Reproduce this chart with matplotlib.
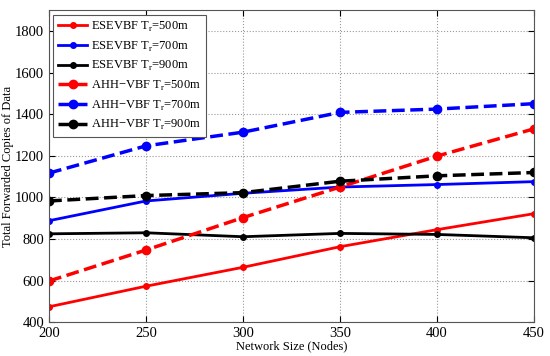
import numpy as np
import matplotlib
matplotlib.use('Agg')
import matplotlib.pyplot as plt

plt.rcParams['font.family'] = ['Liberation Serif', 'DejaVu Serif']
plt.rcParams['mathtext.fontset'] = 'custom'
plt.rcParams['mathtext.rm'] = 'Liberation Serif'

# data
nodes = [200, 250, 300, 350, 400, 450]
esevbf_500 = [474, 573, 664, 763, 845, 922]
esevbf_700 = [888, 983, 1020, 1050, 1062, 1076]
esevbf_900 = [825, 830, 811, 827, 822, 806]
ahh_500 = [598, 747, 903, 1050, 1199, 1330]
ahh_700 = [1117, 1248, 1314, 1409, 1425, 1451]
ahh_900 = [983, 1009, 1023, 1078, 1104, 1120]

labels = [r'ESEVBF T$_\mathregular{r}$=500m', r'ESEVBF T$_\mathregular{r}$=700m',
          r'ESEVBF T$_\mathregular{r}$=900m', r'AHH$-$VBF T$_\mathregular{r}$=500m',
          r'AHH$-$VBF T$_\mathregular{r}$=700m', r'AHH$-$VBF T$_\mathregular{r}$=900m']

fig = plt.figure(figsize=(5.5, 3.56), dpi=100)
ax = fig.add_axes([0.089, 0.095, 0.882, 0.876])

ax.plot(nodes, esevbf_500, 'r-', lw=2, marker='.', ms=8, label=labels[0])
ax.plot(nodes, esevbf_700, 'b-', lw=2, marker='.', ms=8, label=labels[1])
ax.plot(nodes, esevbf_900, 'k-', lw=2, marker='.', ms=8, label=labels[2])
ax.plot(nodes, ahh_500, 'r--', lw=2.5, marker='o', ms=6, label=labels[3])
ax.plot(nodes, ahh_700, 'b--', lw=2.5, marker='o', ms=6, label=labels[4])
ax.plot(nodes, ahh_900, 'k--', lw=2.5, marker='o', ms=6, label=labels[5])

ax.set_xlim(200, 450)
ax.set_ylim(400, 1900)
ax.set_xticks(nodes)
ax.set_yticks(np.arange(400, 1801, 200))
ax.tick_params(direction='in', labelsize=10.5, top=True, right=True, length=4)
ax.grid(True, linestyle=':', color='#999999', lw=0.8)
for s in ax.spines.values():
    s.set_color('#555555')
ax.set_xlabel('Network Size (Nodes)', fontsize=9, labelpad=0)
ax.set_ylabel('Total Forwarded Copies of Data', fontsize=9, labelpad=1)

leg = ax.legend(loc='upper left', fontsize=9, frameon=True, fancybox=False,
                framealpha=1, edgecolor='#555555', handlelength=2.3,
                borderpad=0.4, labelspacing=0.45, handletextpad=0.3,
                borderaxespad=0.35)
leg.get_frame().set_linewidth(0.8)

plt.savefig('out.png', dpi=100)
